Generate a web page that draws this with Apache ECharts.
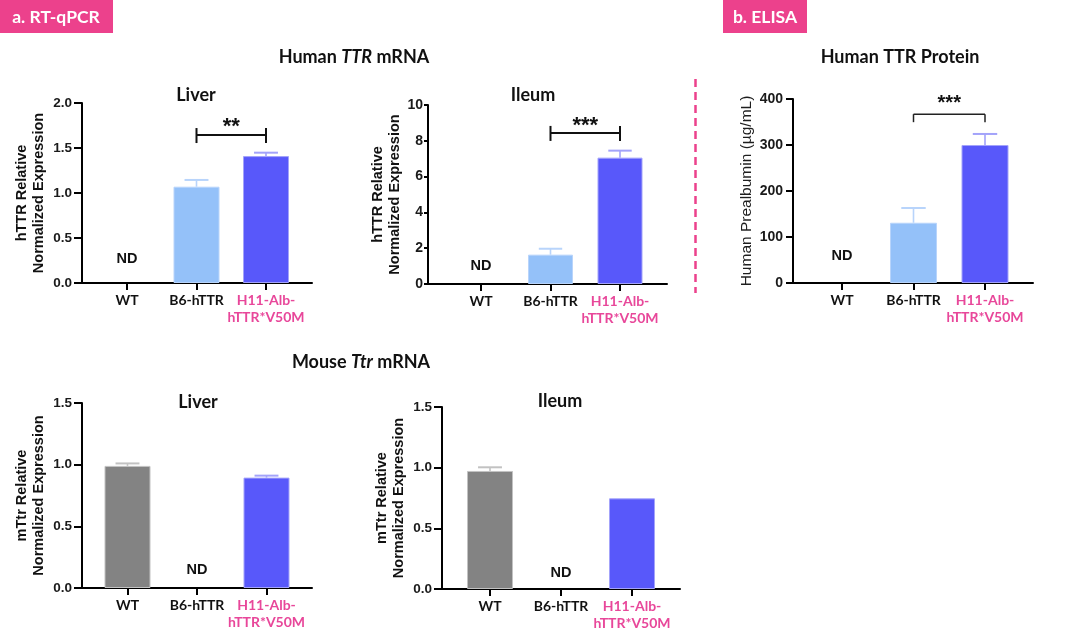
<!DOCTYPE html>
<html><head><meta charset="utf-8">
<script src="https://cdn.jsdelivr.net/npm/echarts@6/dist/echarts.min.js"></script>
<style>html,body{margin:0;padding:0;background:#fff}#c{width:1080px;height:640px}</style>
</head><body><div id="c"></div>
<script>
// ---------------- DATA ----------------
const categories = ['WT', 'B6-hTTR', 'H11-Alb-hTTR*V50M'];

// Human TTR mRNA - liver
const hLiverMean = [0, 1.07, 1.41];
const hLiverSem  = [0, 0.075, 0.038];
const hLiverTicks = [0, 2, 0.5];        // min, max, interval
const hLiverSig  = [1, 2, 1.644, '**']; // from, to, level, label

// Human TTR mRNA - ileum
const hIleumMean = [0, 1.64, 7.06];
const hIleumSem  = [0, 0.33, 0.39];
const hIleumTicks = [0, 10, 2];
const hIleumSig  = [1, 2, 8.44, '***'];

// ELISA - human TTR protein (µg/mL)
const elisaMean = [0, 131, 300];
const elisaSem  = [0, 32, 24];
const elisaTicks = [0, 400, 100];
const elisaSig  = [1, 2, 367, '***'];

// Mouse Ttr mRNA - liver
const mLiverMean = [0.99, 0, 0.895];
const mLiverSem  = [0.02, 0, 0.016];
const mLiverTicks = [0, 1.5, 0.5];

// Mouse Ttr mRNA - ileum
const mIleumMean = [0.973, 0, 0.747];
const mIleumSem  = [0.03, 0, 0];
const mIleumTicks = [0, 1.5, 0.5];

// not-detected group per panel
const ndTop = 0;
const ndBottom = 1;

// ---------------- STYLE / LAYOUT ----------------
const C_LB = '#94c1f9', C_B = '#5858fa', C_G = '#838383';
const E_LB = '#b8d4fb', E_B = '#a3a3fa', E_G = '#c2c2c2';
const PINK = '#ec418c', CAT_PINK = '#e8479a';

const panels = [
  { mean: hLiverMean, sem: hLiverSem, ticks: hLiverTicks, sig: hLiverSig, sigStyle: 'H', nd: ndTop,
    colors: [C_LB, C_LB, C_B], errColors: [E_LB, E_LB, E_B],
    frame: [82, 103, 230, 180], data: [92.25, 208.5], barW: 46,
    name: 'hTTR Relative\nNormalized Expression', nameGap: 35, tickLen: 8, labMargin: 10, dec: 1, ndDist: 17,
    tickFont: 13.5, starDy: 8, starFont: 22 },
  { mean: hIleumMean, sem: hIleumSem, ticks: hIleumTicks, sig: hIleumSig, sigStyle: 'H', nd: ndTop,
    colors: [C_LB, C_LB, C_B], errColors: [E_LB, E_LB, E_B],
    frame: [428, 105, 239, 179], data: [446.25, 208.5], barW: 45,
    name: 'hTTR Relative\nNormalized Expression', nameGap: 22, tickLen: 4, labMargin: 5, dec: 0, ndDist: 11,
    tickFont: 14, starDy: 7, starFont: 22 },
  { mean: elisaMean, sem: elisaSem, ticks: elisaTicks, sig: elisaSig, sigStyle: 'down', nd: ndTop,
    colors: [C_LB, C_LB, C_B], errColors: [E_LB, E_LB, E_B],
    frame: [793, 99, 240, 184], data: [806.25, 214.5], barW: 47,
    name: 'Human Prealbumin (µg/mL)', nameGap: 38, tickLen: 7, labMargin: 10, dec: 0, ndDist: 20, nameNormal: true,
    tickFont: 14, starDy: 11, starFont: 20 },
  { mean: mLiverMean, sem: mLiverSem, ticks: mLiverTicks, sig: null, nd: ndBottom,
    colors: [C_G, C_G, C_B], errColors: [E_G, E_G, E_B],
    frame: [82, 403, 230, 185], data: [92.75, 208.5], barW: 46,
    name: 'mTtr Relative\nNormalized Expression', nameGap: 35, tickLen: 8, labMargin: 10, dec: 1, ndDist: 11,
    tickFont: 13.5 },
  { mean: mIleumMean, sem: mIleumSem, ticks: mIleumTicks, sig: null, nd: ndBottom,
    colors: [C_G, C_G, C_B], errColors: [E_G, E_G, E_B],
    frame: [442, 407, 238, 182], data: [454.5, 213], barW: 46,
    name: 'mTtr Relative\nNormalized Expression', nameGap: 35, tickLen: 8, labMargin: 10, dec: 1, ndDist: 9,
    tickFont: 13.5 }
];

const grid = [], xAxis = [], yAxis = [], series = [];

panels.forEach((p, i) => {
  const fi = 2 * i, di = 2 * i + 1;
  const [fl, ft, fw, fh] = p.frame;
  grid.push({ left: fl, top: ft, width: fw, height: fh, containLabel: false });
  grid.push({ left: p.data[0], top: ft, width: p.data[1], height: fh, containLabel: false });

  // frame axes
  xAxis.push({ type: 'value', gridIndex: fi, min: 0, max: 1,
    axisLine: { show: true, lineStyle: { color: '#000', width: 2 } },
    axisTick: { show: false }, axisLabel: { show: false }, splitLine: { show: false } });
  yAxis.push({ type: 'value', gridIndex: fi, min: p.ticks[0], max: p.ticks[1], interval: p.ticks[2],
    axisLine: { show: true, lineStyle: { color: '#000', width: 2 } },
    axisTick: { show: true, length: p.tickLen, lineStyle: { color: '#000', width: 2 } },
    axisLabel: { margin: p.labMargin, color: '#1a1a1a', fontFamily: 'Liberation Sans', fontWeight: 'bold', fontSize: p.tickFont,
      formatter: v => v.toFixed(p.dec) },
    splitLine: { show: false },
    name: p.name, nameLocation: 'middle', nameRotate: 90, nameGap: p.nameGap,
    nameTextStyle: { fontFamily: 'Liberation Sans', fontWeight: p.nameNormal ? 'normal' : 'bold',
      fontSize: p.nameNormal ? 15.5 : 14.5, color: p.nameNormal ? '#1e1e1e' : '#111', lineHeight: 17 } });

  // data axes
  xAxis.push({ type: 'category', gridIndex: di, data: categories,
    axisLine: { show: false },
    axisTick: { show: true, alignWithLabel: true, length: 7, lineStyle: { color: '#000', width: 2 } },
    axisLabel: { margin: 9, interval: 0,
      formatter: (v, idx) => idx === 2 ? '{p|H11-Alb-}\n{p|hTTR*V50M}' : '{b|' + v + '}',
      rich: {
        b: { fontFamily: 'Lato', fontWeight: 'bold', fontSize: 14, color: '#111', lineHeight: 17 },
        p: { fontFamily: 'Lato', fontWeight: 'bold', fontSize: 14, color: CAT_PINK, lineHeight: 17 }
      } },
    splitLine: { show: false } });
  yAxis.push({ type: 'value', gridIndex: di, min: p.ticks[0], max: p.ticks[1], interval: p.ticks[2], show: false });

  // bars
  series.push({ type: 'bar', xAxisIndex: di, yAxisIndex: di, barWidth: p.barW, z: 2,
    data: p.mean.map((v, k) => {
      const item = { value: v, itemStyle: { color: p.colors[k], borderColor: p.errColors[k], borderWidth: 1 } };
      if (k === p.nd) {
        item.label = { show: true, position: 'top', distance: p.ndDist, formatter: 'ND',
          fontFamily: 'Liberation Sans', fontWeight: 'bold', fontSize: 14.5, color: '#111' };
        item.itemStyle = { color: 'rgba(0,0,0,0)', borderWidth: 0 };
      }
      return item;
    }) });

  // error bars
  series.push({ type: 'custom', xAxisIndex: di, yAxisIndex: di, z: 3,
    data: p.mean.map((v, k) => [k, v, p.sem[k]]),
    renderItem: (params, api) => {
      const x = api.value(0), m = api.value(1), e = api.value(2);
      if (!e) return null;
      const a = api.coord([x, m]), b = api.coord([x, m + e]);
      const half = p.barW * 0.26, col = p.errColors[x];
      return { type: 'group', children: [
        { type: 'line', shape: { x1: a[0], y1: a[1], x2: b[0], y2: b[1] }, style: { stroke: col, lineWidth: 1.6 } },
        { type: 'line', shape: { x1: b[0] - half, y1: b[1], x2: b[0] + half, y2: b[1] }, style: { stroke: col, lineWidth: 2 } }
      ] };
    } });

  // significance bracket
  if (p.sig) {
    series.push({ type: 'custom', xAxisIndex: di, yAxisIndex: di, z: 4,
      data: [p.sig.slice(0, 3)],
      renderItem: (params, api) => {
        const a = api.coord([api.value(0), api.value(2)]);
        const b = api.coord([api.value(1), api.value(2)]);
        const st = { stroke: '#111', lineWidth: 2 };
        const ch = [{ type: 'line', shape: { x1: a[0], y1: a[1], x2: b[0], y2: b[1] }, style: st }];
        if (p.sigStyle === 'H') {
          ch.push({ type: 'line', shape: { x1: a[0], y1: a[1] - 7, x2: a[0], y2: a[1] + 8 }, style: st });
          ch.push({ type: 'line', shape: { x1: b[0], y1: b[1] - 7, x2: b[0], y2: b[1] + 8 }, style: st });
        } else {
          const st2 = { stroke: '#222', lineWidth: 1.5 };
          ch[0].style = st2;
          ch.push({ type: 'line', shape: { x1: a[0], y1: a[1], x2: a[0], y2: a[1] + 8 }, style: st2 });
          ch.push({ type: 'line', shape: { x1: b[0], y1: b[1], x2: b[0], y2: b[1] + 8 }, style: st2 });
        }
        ch.push({ type: 'text', x: (a[0] + b[0]) / 2, y: a[1] - p.starDy,
          style: { text: p.sig[3], fill: '#111', font: 'bold ' + p.starFont + 'px "Liberation Sans"', align: 'center', verticalAlign: 'middle' } });
        return { type: 'group', children: ch };
      } });
  }
});

const TF = 'bold 18px Lato';
const txt = (x, y, text) => ({ type: 'text', x, y, style: { text, font: TF, fill: '#111', align: 'center', verticalAlign: 'middle' } });
const graphic = [
  { type: 'rect', shape: { x: 0, y: 0, width: 113, height: 33 }, style: { fill: PINK } },
  { type: 'text', x: 56, y: 17, style: { text: 'a. RT-qPCR', fill: '#fff', font: 'bold 17.5px Lato', align: 'center', verticalAlign: 'middle' } },
  { type: 'rect', shape: { x: 723, y: 0, width: 84, height: 33 }, style: { fill: PINK } },
  { type: 'text', x: 765, y: 17, style: { text: 'b. ELISA', fill: '#fff', font: 'bold 17.5px Lato', align: 'center', verticalAlign: 'middle' } },
  { type: 'line', shape: { x1: 695.5, y1: 79, x2: 695.5, y2: 293 }, style: { stroke: PINK, lineWidth: 2.5, lineDash: [8, 5] } },
  { type: 'text', x: 354, y: 57, style: { text: '{n|Human }{i|TTR}{n| mRNA}', align: 'center', verticalAlign: 'middle',
      rich: { n: { font: TF, fill: '#111' }, i: { font: 'italic ' + TF, fill: '#111' } } } },
  { type: 'text', x: 361, y: 362, style: { text: '{n|Mouse }{i|Ttr}{n| mRNA}', align: 'center', verticalAlign: 'middle',
      rich: { n: { font: TF, fill: '#111' }, i: { font: 'italic ' + TF, fill: '#111' } } } },
  txt(900, 57, 'Human TTR Protein'),
  txt(196, 95, 'Liver'),
  txt(533, 95, 'Ileum'),
  txt(198, 402, 'Liver'),
  txt(560, 401, 'Ileum')
];

const chart = echarts.init(document.getElementById('c'), null, { renderer: 'canvas' });
chart.setOption({ animation: false, backgroundColor: '#fff', grid, xAxis, yAxis, series, graphic });
</script>
</body></html>
